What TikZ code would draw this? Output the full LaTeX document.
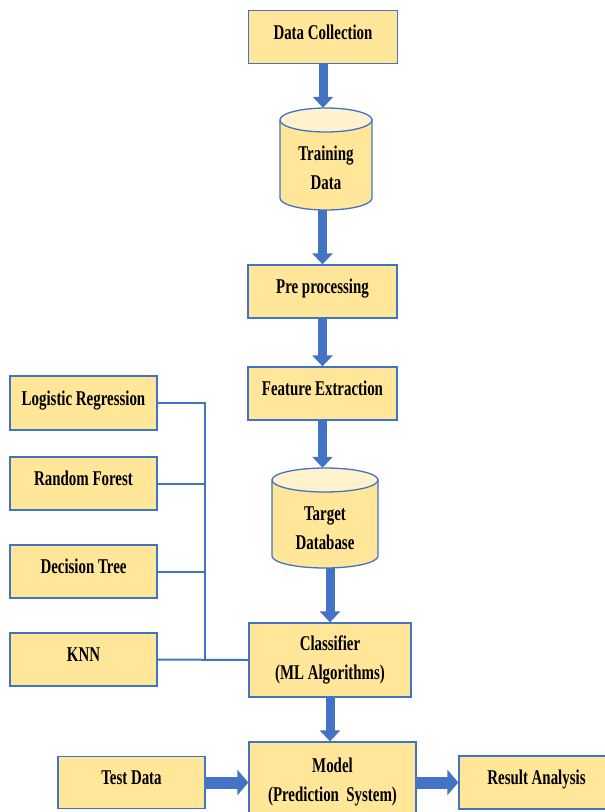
\documentclass[tikz,border=0pt]{standalone}
\usepackage{fontspec}
\setmainfont{Liberation Serif}[FakeStretch=0.71]
\usetikzlibrary{arrows.meta}
\definecolor{boxfill}{HTML}{FFE699}
\definecolor{boxedge}{HTML}{4472C4}
\definecolor{topfill}{HTML}{FFF2CC}
\begin{document}
\begin{tikzpicture}[x=1pt,y=-1pt,
  lbl/.style={font=\fontsize{21}{28.5}\selectfont\bfseries},
  boxbase/.style={draw=boxedge, line width=1.3pt, fill=boxfill, inner sep=0pt, lbl},
  onebox/.style={boxbase, text height=14pt, text depth=10pt},
  twobox/.style={boxbase, align=center},
  cylline/.style={draw=boxedge, line width=1.3pt},
  cylframe/.style={inner sep=0pt},
  cyltext/.style={align=center, inner sep=0pt, lbl},
  blk/.style={draw=boxedge, line width=9pt, -{Triangle[width=20pt,length=11pt]}},
  hblk/.style={draw=boxedge, line width=12pt, -{Triangle[width=25pt,length=11pt]}},
  wire/.style={draw=boxedge, line width=2pt}
]
\useasboundingbox (0,0) rectangle (605,812);
% main column
\node[onebox, minimum width=149pt, minimum height=53pt] (dc) at (323,37) {Data Collection};
% Training Data cylinder: x 280..372, y 108..210
\node[cylframe, minimum width=92pt, minimum height=102pt] (train) at (326,159) {};
\path[cylline, fill=boxfill] (280,120) -- (280,198) arc[start angle=180, end angle=360, x radius=46pt, y radius=12pt] -- (372,120) -- cycle;
\path[cylline, fill=topfill] (326,120) ellipse[x radius=46pt, y radius=12pt];
\node[cyltext] (traintext) at (326,168) {Training\\Data};
\node[onebox, minimum width=149pt, minimum height=53pt] (pre) at (322.5,291.5) {Pre processing};
\node[onebox, minimum width=149pt, minimum height=53pt] (feat) at (322.5,393.5) {Feature Extraction};
% Target Database cylinder: x 272..378, y 468..568
\node[cylframe, minimum width=106pt, minimum height=100pt] (target) at (325,518) {};
\path[cylline, fill=boxfill] (272,480) -- (272,556) arc[start angle=180, end angle=360, x radius=53pt, y radius=12pt] -- (378,480) -- cycle;
\path[cylline, fill=topfill] (325,480) ellipse[x radius=53pt, y radius=12pt];
\node[cyltext] (targettext) at (325,528) {Target\\Database};
\node[twobox, minimum width=162pt, minimum height=74pt] (clf) at (330,660) {Classifier\\(ML Algorithms)};
\node[twobox, minimum width=167pt, minimum height=80pt] (model) at (332.5,782) {Model\\(Prediction\ \ System)};
\node[onebox, minimum width=147pt, minimum height=52pt] (test) at (131.5,782.5) {Test Data};
\node[onebox, minimum width=155pt, minimum height=53pt] (result) at (536.5,782.5) {Result Analysis};
% algorithm boxes
\node[onebox, minimum width=147pt, minimum height=54pt] (lr) at (83.5,403) {Logistic Regression};
\node[onebox, minimum width=147pt, minimum height=53pt] (rf) at (83.5,483.5) {Random Forest};
\node[onebox, minimum width=147pt, minimum height=53pt] (dt) at (83.5,571.5) {Decision Tree};
\node[onebox, minimum width=147pt, minimum height=53pt] (knn) at (83.5,659.5) {KNN};
% bus
\coordinate (busbot) at (205,660);
\draw[wire] (lr.east) -| (busbot);
\draw[wire] (rf.east) -- (rf.east -| busbot);
\draw[wire] (dt.east) -- (dt.east -| busbot);
\draw[wire] (knn.east) -- (clf.west);
% block arrows
\draw[blk] (dc.south) -- (dc.south |- train.north);
\draw[blk] (pre.north |- train.south) -- (pre.north);
\draw[blk] (pre.south) -- (feat.north);
\draw[blk] (feat.south) -- (feat.south |- target.north);
\draw[blk] (clf.north |- target.south) -- (clf.north);
\draw[blk] (clf.south) -- (clf.south |- model.north);
\draw[hblk] (test.east) -- (test.east -| model.west);
\draw[hblk] (model.east |- result.west) -- (result.west);
\end{tikzpicture}
\end{document}
